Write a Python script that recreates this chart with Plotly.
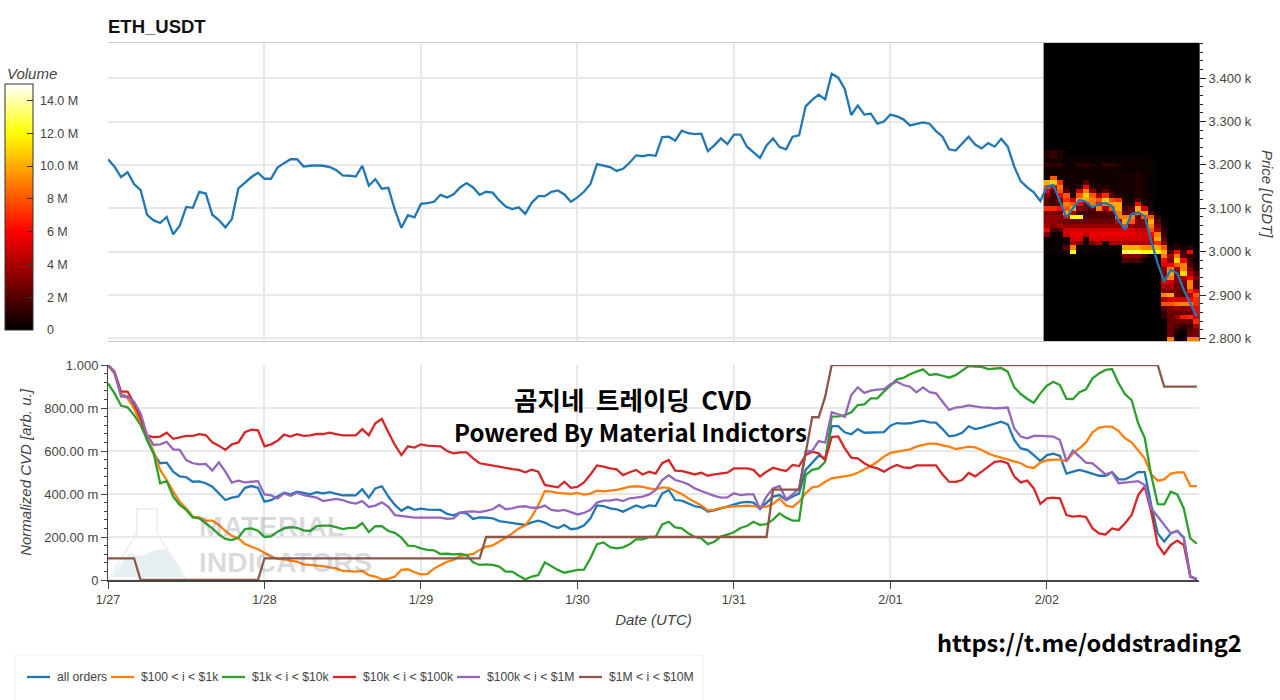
import numpy as np
import pandas as pd
import plotly.graph_objects as go
from plotly.subplots import make_subplots

# hourly samples, 1/27 00:00 to 2/02 23:00
hours = pd.date_range("2025-01-27", periods=168, freq="h")

price = [
    3213, 3196, 3172, 3183, 3156, 3142, 3085, 3072, 3066, 3080, 3040, 3060,
    3103, 3101, 3138, 3134, 3085, 3073, 3056, 3075, 3146, 3159, 3172, 3182,
    3168, 3168, 3194, 3204, 3213, 3213, 3196, 3198, 3199, 3198, 3195, 3188,
    3176, 3175, 3173, 3198, 3152, 3167, 3145, 3147, 3096, 3055, 3084, 3079,
    3110, 3112, 3115, 3131, 3125, 3132, 3148, 3158, 3148, 3131, 3138, 3136,
    3118, 3104, 3098, 3102, 3087, 3113, 3128, 3128, 3138, 3141, 3132, 3115,
    3125, 3138, 3156, 3202, 3198, 3195, 3186, 3191, 3205, 3222, 3220, 3223,
    3221, 3264, 3265, 3256, 3279, 3273, 3271, 3272, 3232, 3245, 3261, 3248,
    3270, 3270, 3242, 3229, 3216, 3245, 3261, 3241, 3236, 3265, 3268, 3335,
    3350, 3362, 3351, 3410, 3401, 3375, 3315, 3337, 3316, 3318, 3295, 3300,
    3316, 3312, 3305, 3291, 3294, 3298, 3295, 3278, 3265, 3236, 3233, 3250,
    3265, 3247, 3238, 3250, 3242, 3260, 3242, 3196, 3162, 3148, 3137, 3117,
    3150, 3154, 3115, 3079, 3100, 3119, 3115, 3102, 3110, 3112, 3105, 3071,
    3052, 3087, 3090, 3082, 3025, 2973, 2931, 2958, 2950, 2912, 2881, 2850,
]

all_orders = [
    1.0, .961, .864, .853, .814, .744, .651, .589, .543, .546, .504, .482,
    .478, .457, .459, .450, .434, .403, .372, .383, .389, .429, .437, .429,
    .364, .371, .388, .406, .398, .411, .405, .398, .408, .403, .409, .403,
    .394, .395, .394, .422, .383, .426, .436, .388, .349, .322, .340, .326,
    .332, .327, .327, .326, .307, .301, .313, .310, .284, .291, .290, .287,
    .274, .270, .267, .262, .256, .268, .276, .267, .251, .242, .256, .236,
    .240, .253, .287, .347, .344, .333, .329, .318, .333, .347, .336, .347,
    .344, .402, .419, .372, .369, .357, .343, .338, .318, .324, .333, .341,
    .353, .360, .363, .360, .330, .357, .388, .395, .371, .388, .403, .512,
    .543, .578, .566, .716, .716, .687, .678, .702, .685, .685, .685, .688,
    .718, .730, .727, .729, .735, .741, .733, .732, .702, .668, .673, .685,
    .715, .702, .709, .718, .729, .736, .724, .651, .612, .605, .581, .553,
    .581, .588, .577, .495, .504, .512, .504, .493, .485, .485, .501, .468,
    .468, .484, .502, .502, .349, .217, .178, .217, .229, .198, .016, .003,
]
usd_100_1k = [
    1.0, .961, .864, .845, .798, .729, .659, .597, .512, .465, .411, .364,
    .333, .295, .291, .276, .276, .256, .228, .205, .194, .167, .155, .143,
    .127, .109, .098, .096, .090, .085, .073, .070, .070, .065, .059, .054,
    .042, .039, .039, .042, .023, .016, .003, .005, .016, .047, .050, .036,
    .026, .029, .053, .070, .085, .093, .112, .116, .121, .140, .155, .161,
    .178, .197, .217, .240, .253, .295, .349, .414, .411, .405, .403, .400,
    .405, .397, .402, .416, .412, .414, .419, .426, .434, .436, .433, .426,
    .422, .431, .429, .414, .400, .380, .364, .347, .324, .327, .336, .340,
    .343, .344, .346, .344, .338, .341, .353, .380, .346, .340, .364, .403,
    .431, .436, .457, .473, .478, .484, .488, .499, .515, .530, .550, .574,
    .591, .597, .603, .608, .620, .629, .634, .634, .626, .620, .609, .614,
    .620, .617, .605, .589, .577, .569, .560, .553, .543, .526, .521, .546,
    .557, .560, .560, .553, .589, .612, .640, .687, .709, .713, .713, .693,
    .659, .640, .605, .566, .491, .462, .468, .495, .501, .501, .437, .437,
]
usd_1k_10k = [
    .915, .868, .811, .803, .767, .721, .651, .589, .450, .460, .388, .349,
    .326, .291, .287, .264, .240, .212, .191, .186, .197, .237, .240, .229,
    .200, .203, .225, .240, .246, .243, .231, .228, .251, .253, .253, .246,
    .237, .242, .243, .265, .223, .250, .250, .228, .219, .197, .160, .158,
    .147, .140, .138, .121, .122, .119, .121, .116, .082, .070, .073, .070,
    .062, .039, .039, .020, .003, .016, .023, .082, .065, .047, .034, .042,
    .047, .048, .101, .167, .175, .153, .147, .152, .166, .189, .189, .200,
    .200, .259, .271, .245, .240, .217, .200, .194, .167, .178, .202, .211,
    .222, .242, .251, .271, .256, .260, .281, .310, .290, .276, .276, .488,
    .512, .519, .550, .760, .761, .767, .780, .814, .817, .845, .845, .876,
    .907, .933, .940, .957, .969, .980, .953, .958, .950, .941, .953, .974,
    .995, .992, .991, .981, .983, .986, .969, .896, .865, .842, .825, .868,
    .904, .922, .907, .843, .842, .873, .887, .938, .961, .977, .981, .915,
    .864, .837, .729, .662, .488, .353, .352, .411, .398, .333, .194, .169,
]
usd_10k_100k = [
    1.0, .969, .876, .876, .822, .752, .671, .665, .667, .685, .657, .664,
    .670, .670, .678, .674, .640, .625, .605, .631, .640, .687, .699, .696,
    .622, .631, .647, .676, .667, .678, .670, .673, .679, .679, .685, .679,
    .673, .673, .673, .702, .673, .729, .749, .687, .628, .581, .622, .616,
    .631, .625, .622, .622, .600, .589, .594, .594, .566, .543, .538, .532,
    .527, .522, .516, .512, .501, .513, .504, .442, .436, .431, .457, .429,
    .433, .454, .491, .533, .527, .519, .515, .488, .501, .512, .491, .504,
    .495, .543, .558, .509, .507, .498, .491, .499, .485, .491, .496, .499,
    .519, .519, .519, .512, .481, .504, .522, .513, .507, .535, .530, .581,
    .597, .589, .557, .665, .668, .612, .569, .566, .543, .527, .519, .504,
    .522, .535, .524, .521, .533, .533, .532, .533, .491, .457, .456, .465,
    .498, .482, .504, .527, .550, .553, .543, .481, .454, .462, .426, .354,
    .380, .383, .380, .302, .295, .298, .293, .240, .217, .212, .240, .233,
    .264, .302, .395, .434, .318, .163, .121, .163, .183, .163, .016, .003,
]
usd_100k_1m = [
    1.0, .969, .853, .853, .829, .775, .674, .628, .631, .643, .608, .605,
    .558, .543, .538, .540, .509, .547, .504, .453, .462, .454, .457, .460,
    .398, .394, .380, .403, .392, .406, .395, .388, .383, .367, .372, .377,
    .372, .361, .355, .367, .340, .346, .361, .341, .302, .298, .293, .290,
    .290, .291, .290, .290, .285, .287, .313, .318, .319, .316, .322, .329,
    .349, .329, .333, .341, .343, .336, .336, .346, .326, .322, .326, .315,
    .305, .312, .327, .360, .369, .369, .375, .367, .380, .383, .388, .398,
    .419, .465, .488, .465, .457, .445, .426, .414, .402, .391, .383, .384,
    .403, .395, .398, .398, .330, .388, .426, .437, .375, .398, .426, .597,
    .600, .646, .639, .780, .771, .758, .860, .896, .870, .881, .885, .888,
    .910, .922, .907, .899, .873, .896, .874, .868, .829, .791, .802, .805,
    .812, .806, .803, .802, .798, .800, .802, .705, .667, .659, .670, .670,
    .670, .667, .651, .553, .602, .574, .546, .543, .515, .491, .501, .450,
    .453, .456, .460, .442, .333, .295, .253, .217, .229, .194, .016, .005,
]
usd_1m_10m = (
    [.101] * 5 + [0] * 19 + [.101] * 34 + [.2] * 44
    + [.42] * 5 + [.589, .757, .757, .853] + [1.0] * 51 + [.899] * 6
)

series_names = ["all orders", "$100 < i < $1k", "$1k < i < $10k", "$10k < i < $100k",
                "$100k < i < $1M", "$1M < i < $10M"]
series_colors = ["#1f77b4", "#ff7f0e", "#2ca02c", "#d62728", "#9467bd", "#8c564b"]
series_values = [all_orders, usd_100_1k, usd_1k_10k, usd_10k_100k, usd_100k_1m, usd_1m_10m]

# order book volume [M] for the last day, rows 3230 down to 2800 in $10 bins
heat_prices = list(range(3230, 2790, -10))
heat_volume = [
    [.8, 1.2, .8, 0, 0, 0, 0, 0, 0, 0, 0, 0, 0, 0, 0, 0, 0, 0, 0, 0, 0, 0, 0, 0],
    [.8, 1.2, .8, .2, .2, .2, .2, .2, .2, .2, .2, .2, .2, .2, .2, .2, 0, 0, 0, 0, 0, 0, 0, 0],
    [.4, .4, .4, .2, .3, .3, .3, .3, .3, .3, .3, .3, .3, .3, .3, .3, .2, 0, 0, 0, 0, 0, 0, 0],
    [1.2, 1.2, 1.2, .3, .3, 1, 1.2, .8, .3, 1.2, 1.2, .8, .3, .3, .3, .3, .2, 0, 0, 0, 0, 0, 0, 0],
    [.4, .4, .4, .3, .3, .3, .4, .4, .4, .4, .4, .4, .3, .3, .4, .3, .2, 0, 0, 0, 0, 0, 0, 0],
    [.4, .4, .4, .4, .4, .4, .4, .4, .4, .4, .4, .5, .5, .5, .8, .5, .2, 0, 0, 0, 0, 0, 0, 0],
    [.4, 8, .4, .4, .4, .4, .4, .4, .4, .4, .4, .5, .5, .5, .8, .5, .2, 0, 0, 0, 0, 0, 0, 0],
    [10, 11, 7, .4, .4, .4, 2, .4, .4, .4, .4, .5, .5, .5, .8, .5, .2, 0, 0, 0, 0, 0, 0, 0],
    [8, 5, 9, 1, .4, 1, 6, 1, .8, .8, .5, .5, .5, .5, .8, .5, .2, 0, 0, 0, 0, 0, 0, 0],
    [5, 2, 8, 2, .5, 5, 9, 3, .8, 2, .8, .5, .5, .5, .8, .5, .2, 0, 0, 0, 0, 0, 0, 0],
    [3, 1.5, 6, 8, 1, 8, 11, 8, 4, 7, 2, 1, .5, .5, .8, .5, .2, 0, 0, 0, 0, 0, 0, 0],
    [2, 1.5, 3, 7, 5, 10, 10, 9, 8, 11, 8, 7, .5, .5, 2, .5, .2, 0, 0, 0, 0, 0, 0, 0],
    [2, 1.5, 2, 9, 8, 6, 3, 9, 6, 9, 10, 10, .8, .8, 6, .8, .2, 0, 0, 0, 0, 0, 0, 0],
    [7, 7, 6, 8, 10, 3, 2.5, 2, 9, 4, 8, 10, 1.5, 2, 10, 5, .5, 0, 0, 0, 0, 0, 0, 0],
    [3, 3, 2.5, 10, 4, 1.5, 1.5, 1.5, 2, 2, 2.5, 9, 2, 2.5, 9, 10, 1.5, .3, 0, 0, 0, 0, 0, 0],
    [3.5, 3.5, 3, 5, 12, 12, 2, 2, 2, 2, 2, 9, 9, 9, 2.5, 8, 8, 1, 0, 0, 0, 0, 0, 0],
    [3.5, 3.5, 3, 2.5, 2.5, 2.5, 2.5, 2.5, 2.5, 2.5, 2.5, 4, 10, 8, 3, 3, 10, 2, .3, 0, 0, 0, 0, 0],
    [4, 3, 4, 3.5, 3.5, 3.5, 3.5, 3.5, 3.5, 3.5, 3.5, 3.5, 8, 3.5, 3, 3, 9, 3, .5, 0, 0, 0, 0, 0],
    [5.5, 1.5, 2, 5, 5, 5, 5, 5, 5, 5, 5, 5, 5, 5, 4.5, 4.5, 8, 4, 1, 0, 0, 0, 0, 0],
    [3, .3, .5, 5, 5.5, 5.5, 4.5, 5.5, 5.5, 5.5, 5.5, 5.5, 5.5, 5.5, 5, 5, 6, 9, 1, 0, 0, 0, 0, 0],
    [.3, .2, .2, .5, 5, 5, .5, 5, 5, 5, 5, 5, 5, 5, 5, 5, 5, 10, 2, 0, 0, 0, 0, 0],
    [.2, .2, .2, .3, 4, 3, .3, 3, 4, .5, 4, 4, 4, 4, 4, 4, 4, 7, 3, 0, .5, 0, 0, 0],
    [.2, .2, .2, 2, 9, .2, .2, .2, .2, .2, .2, .2, 10, 10, 10, 9, 9, 10, 8, .5, 1, .5, 1, 0],
    [.2, .2, .2, 1, 12, .2, .2, .2, .2, .2, .2, .2, 13, 13, 13, 12, 12, 12, 10, 2, 6, 1.5, 6, 0],
    [0, 0, 0, 0, .5, 0, 0, 0, 0, 0, 0, 0, 3, 3, 3, 2, .3, .3, 9, 4, 9, 2, 1, .3],
    [0, 0, 0, 0, 0, 0, 0, 0, 0, 0, 0, 0, 2, 1.5, 2, .3, 0, 0, 6, 3, 11, 6, 1.5, .3],
    [0, 0, 0, 0, 0, 0, 0, 0, 0, 0, 0, 0, 0, 0, 0, 0, 0, 0, 5, 6, 8, 9, 2, .5],
    [0, 0, 0, 0, 0, 0, 0, 0, 0, 0, 0, 0, 0, 0, 0, 0, 0, 0, 3, 9, 3.5, 9, 3, .8],
    [0, 0, 0, 0, 0, 0, 0, 0, 0, 0, 0, 0, 0, 0, 0, 0, 0, 0, 3, 10, 3, 11, 4, 2],
    [0, 0, 0, 0, 0, 0, 0, 0, 0, 0, 0, 0, 0, 0, 0, 0, 0, 0, 4, 9, 3, 4, 6, 3],
    [0, 0, 0, 0, 0, 0, 0, 0, 0, 0, 0, 0, 0, 0, 0, 0, 0, 0, 5, 5, 3, 3, 9, 2],
    [0, 0, 0, 0, 0, 0, 0, 0, 0, 0, 0, 0, 0, 0, 0, 0, 0, 0, 4, 4, 2.5, 2.5, 9, 2],
    [0, 0, 0, 0, 0, 0, 0, 0, 0, 0, 0, 0, 0, 0, 0, 0, 0, 0, 3, 3, 2.5, 2, 7, 5],
    [0, 0, 0, 0, 0, 0, 0, 0, 0, 0, 0, 0, 0, 0, 0, 0, 0, 0, 9, 10, 2.5, 2, 4, 8],
    [0, 0, 0, 0, 0, 0, 0, 0, 0, 0, 0, 0, 0, 0, 0, 0, 0, 0, 4, 5, 5, 5, 6, 7],
    [0, 0, 0, 0, 0, 0, 0, 0, 0, 0, 0, 0, 0, 0, 0, 0, 0, 0, 8, 8, 9, 9, 9, 7],
    [0, 0, 0, 0, 0, 0, 0, 0, 0, 0, 0, 0, 0, 0, 0, 0, 0, 0, 2, 3, 3.5, 3, 3.5, 6],
    [0, 0, 0, 0, 0, 0, 0, 0, 0, 0, 0, 0, 0, 0, 0, 0, 0, 0, 1, 2.5, 2.5, 2.5, 2.5, 6],
    [0, 0, 0, 0, 0, 0, 0, 0, 0, 0, 0, 0, 0, 0, 0, 0, 0, 0, 1, 2.5, 3.5, 6.5, 7, 5],
    [0, 0, 0, 0, 0, 0, 0, 0, 0, 0, 0, 0, 0, 0, 0, 0, 0, 0, 0, 2.5, 2.5, 2.5, 2.5, 7],
    [0, 0, 0, 0, 0, 0, 0, 0, 0, 0, 0, 0, 0, 0, 0, 0, 0, 0, 0, 2.5, 2, 1, 1.5, 4],
    [0, 0, 0, 0, 0, 0, 0, 0, 0, 0, 0, 0, 0, 0, 0, 0, 0, 0, 0, 2.5, 1, .5, 2, 3],
    [0, 0, 0, 0, 0, 0, 0, 0, 0, 0, 0, 0, 0, 0, 0, 0, 0, 0, 0, 2.5, .5, 0, 2.5, 3],
    [0, 0, 0, 0, 0, 0, 0, 0, 0, 0, 0, 0, 0, 0, 0, 0, 0, 0, 0, 9, .3, .3, 9, 9],
]

price_ticks = [2800, 2900, 3000, 3100, 3200, 3300, 3400]
price_labels = ["2.800 k", "2.900 k", "3.000 k", "3.100 k", "3.200 k", "3.300 k", "3.400 k"]
cvd_ticks = [0, 0.2, 0.4, 0.6, 0.8, 1.0]
cvd_labels = ["0", "200.00 m", "400.00 m", "600.00 m", "800.00 m", "1.000"]
volume_ticks = [0, 2, 4, 6, 8, 10, 12, 14]
volume_labels = ["\u00a0\u00a0\u00a00", "\u00a0\u00a0\u00a02 M", "\u00a0\u00a0\u00a04 M", "\u00a0\u00a0\u00a06 M",
                 "\u00a0\u00a0\u00a08 M", "\u00a010.0 M", "\u00a012.0 M", "\u00a014.0 M"]

W, H = 1280, 700
L, R, T, B = 108, 1199, 43, 580
GRID = "#e8e8e8"
INK = "#444444"
SANS = "Liberation Sans"


def px(x, y):
    return (x - L) / (R - L), (B - y) / (B - T)


def path(points):
    return "M" + " L".join("%.4f,%.4f" % px(x, y) for x, y in points) + " Z"


def note(text, x, y, font, size, color, anchor="center", **kw):
    return dict(text=text, xref="paper", yref="paper", x=px(x, 0)[0], y=px(0, y)[1], showarrow=False,
                xanchor=anchor, yanchor="middle", font=dict(family=font, size=size, color=color), **kw)


fig = make_subplots(rows=2, cols=1, shared_xaxes=True)

# padding rows keep the heat block black up to the frame
top_rows = list(range(3480, 3230, -10))
rows_y = top_rows + heat_prices + [2790]
rows_z = np.vstack([np.zeros((len(top_rows), 24)), np.array(heat_volume), np.zeros((1, 24))])

fig.add_trace(go.Heatmap(
    x=hours[144:], y=rows_y, z=rows_z, zmin=0, zmax=15, showlegend=False, hoverinfo="skip",
    colorscale=[[0, "#000000"], [0.4, "#ff0000"], [0.8, "#ffff00"], [1, "#ffffff"]],
    colorbar=dict(
        x=(5 - L) / (R - L), xanchor="left", xpad=0,
        y=(B - 84) / (B - T), yanchor="top", ypad=0,
        lenmode="pixels", len=246, thicknessmode="pixels", thickness=28,
        outlinecolor="#333333", outlinewidth=1,
        tickmode="array", tickvals=volume_ticks, ticktext=volume_labels,
        ticks="inside", ticklen=6, tickcolor="#333333",
        tickfont=dict(family=SANS, size=12.5, color=INK),
    ),
), row=1, col=1)

fig.add_trace(go.Scatter(x=hours, y=price, mode="lines", showlegend=False,
                         line=dict(color="#1f77b4", width=2.3)), row=1, col=1)

for name, color, values in zip(series_names, series_colors, series_values):
    fig.add_trace(go.Scatter(x=hours, y=values, mode="lines", name=name, showlegend=False,
                             line=dict(color=color, width=2.3)), row=2, col=1)

x_range = ["2025-01-27 00:00", "2025-02-02 23:20"]
fig.update_xaxes(range=x_range, showgrid=True, gridcolor=GRID, gridwidth=1.5, dtick=86400000,
                 tick0="2025-01-27", zeroline=False)
fig.update_xaxes(row=1, col=1, showticklabels=False, ticks="", showline=True, linecolor="#cccccc",
                 mirror=True, linewidth=1)
fig.update_xaxes(row=2, col=1, tickformat="%-m/%d", ticks="outside", ticklen=7, tickcolor=INK,
                 showline=True, linecolor=INK, linewidth=1.5,
                 tickfont=dict(family=SANS, size=12.5, color=INK),
                 title=dict(text="<i>Date (UTC)</i>", standoff=9, font=dict(family=SANS, size=15, color=INK)))

fig.update_yaxes(row=1, col=1, side="right", range=[2794, 3481], tickmode="array",
                 tickvals=price_ticks, ticktext=price_labels, showgrid=True, gridcolor=GRID,
                 gridwidth=1.5, zeroline=False, ticks="outside", ticklen=6, tickcolor="#222222",
                 showline=True, linecolor="#555555", linewidth=1,
                 minor=dict(dtick=20, ticks="outside", ticklen=3, tickcolor="#222222", showgrid=False),
                 tickfont=dict(family=SANS, size=13, color=INK))
fig.update_yaxes(row=2, col=1, range=[0, 1], tickmode="array", tickvals=cvd_ticks,
                 ticktext=cvd_labels, showgrid=True, gridcolor=GRID, gridwidth=1.5, zeroline=False,
                 ticks="outside", ticklen=6, tickcolor=INK, showline=True, linecolor=INK, linewidth=1,
                 minor=dict(dtick=0.04, ticks="outside", ticklen=3, tickcolor=INK, showgrid=False),
                 tickfont=dict(family=SANS, size=13, color=INK),
                 title=dict(text="<i>Normalized CVD [arb. u.]</i>", standoff=8,
                            font=dict(family=SANS, size=15, color=INK)))

# legend row: sample start, text start
legend_x = [27, 111, 222, 333, 457, 579]
legend_shapes = [
    dict(type="line", xref="paper", yref="paper", x0=px(x, 0)[0], x1=px(x + 23, 0)[0],
         y0=px(0, 677)[1], y1=px(0, 677)[1], line=dict(color=c, width=2.3))
    for x, c in zip(legend_x, series_colors)
]
legend_notes = [note(n, x + 28, 677, SANS, 12.2, INK, anchor="left") for x, n in zip(legend_x, series_names)]

fig.update_layout(
    xaxis=dict(domain=[0, 1]),
    yaxis=dict(domain=[(B - 341) / (B - T), 1]),
    yaxis2=dict(domain=[0, (B - 365) / (B - T)]),
    width=W, height=H, autosize=False, paper_bgcolor="white", plot_bgcolor="white",
    margin=dict(l=L, r=W - R, t=T, b=H - B, pad=0, autoexpand=False),
    showlegend=False,
    title=dict(text="<b>ETH_USDT</b>", x=L / W, xanchor="left", y=1 - 27 / H, yanchor="middle",
               font=dict(family=SANS, size=18.5, color="#111111")),
    shapes=[
        dict(type="rect", xref="paper", yref="paper", x0=px(15, 0)[0], x1=px(703, 0)[0],
             y0=px(0, 705)[1], y1=px(0, 655)[1], line=dict(color="#eeeeee", width=1),
             fillcolor="white", layer="below"),
        # flask of the watermark
        dict(type="path", xref="paper", yref="paper", layer="below",
             path=path([(137, 509), (157, 509), (157, 533), (186, 580), (108, 580), (137, 533)]),
             line=dict(color="#eef0f2", width=2), fillcolor="rgba(0,0,0,0)"),
        dict(type="path", xref="paper", yref="paper", layer="below",
             path=path([(118, 567), (130, 553), (142, 556), (152, 551), (165, 549), (180, 567),
                        (183, 577), (112, 577)]),
             line=dict(width=0), fillcolor="#e6eff2"),
    ] + legend_shapes,
    annotations=[
        note("<i>Volume</i>", 5, 73, SANS, 15, INK, anchor="left"),
        note("<i>Price [USDT]</i>", 1268, 194, SANS, 15, INK, textangle=90),
        note("<b>곰지네\u00a0 트레이딩\u00a0 CVD</b>", 633, 398, "Noto Sans CJK KR", 25.5, "#000000"),
        note("<b>Powered By Material Indictors</b>", 630, 431, "Noto Sans CJK KR", 24, "#000000"),
        note("<b>https://t.me/oddstrading2</b>", 1244, 642, "Noto Sans CJK KR", 23.6, "#000000", anchor="right"),
        note("<b>MATERIAL</b>", 197, 526, SANS, 28.5, "rgba(90,90,105,0.22)", anchor="left"),
        note("<b>INDICATORS</b>", 197, 562, SANS, 28.3, "rgba(90,90,105,0.22)", anchor="left"),
    ] + legend_notes,
)

fig.write_html("out.html", config={"displayModeBar": False},
               post_script="document.body.style.margin='0';")
